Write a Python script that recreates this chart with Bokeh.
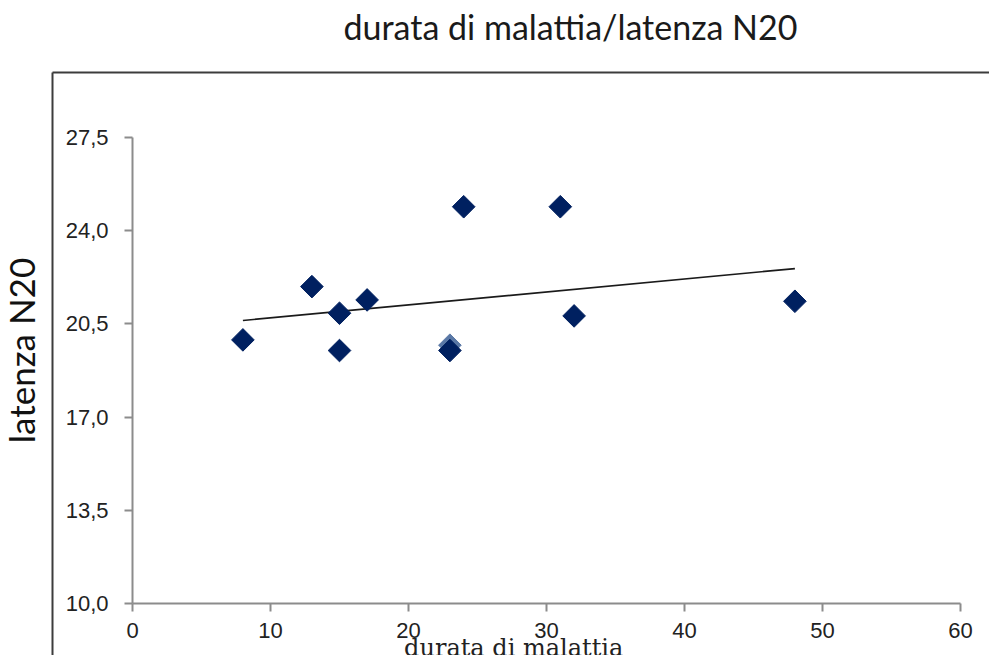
import numpy as np
from bokeh.plotting import figure
from bokeh.models import Range1d, FixedTicker, LinearAxis
from bokeh.embed import file_html
from bokeh.resources import INLINE

# ---- data ----
durata = [8, 13, 15, 17, 15, 23, 24, 31, 32, 48]
latenza = [19.9, 21.9, 20.9, 21.4, 19.5, 19.5, 24.9, 24.9, 20.8, 21.35]
durata_b = [23]
latenza_b = [19.7]

x_ticks = [0, 10, 20, 30, 40, 50, 60]
y_ticks = [10.0, 13.5, 17.0, 20.5, 24.0, 27.5]
y_tick_labels = ["10,0", "13,5", "17,0", "20,5", "24,0", "27,5"]

title_text = "durata di malattia/latenza N20"
x_label_text = "durata di  malattia"
y_label_text = "latenza N20"

# ---- layout (pixels) ----
W, H = 989, 655
FRAME_L, FRAME_T = 52, 72                      # outer chart box (left / top edges)
AX_L, AX_R, AX_T, AX_B = 132, 960, 137, 603    # inner plot area
X0, X1 = x_ticks[0], x_ticks[-1]
Y0, Y1 = y_ticks[0], y_ticks[-1]
kx = (AX_R - AX_L) / (X1 - X0)
ky = (AX_B - AX_T) / (Y1 - Y0)

def dx(cx):   # canvas px -> x data
    return X0 + (cx - AX_L) / kx

def dy(cy):   # canvas px -> y data
    return Y0 + (AX_B - cy) / ky

xr = Range1d(dx(0), dx(W))
yr = Range1d(dy(H), dy(0))

p = figure(width=W, height=H, output_backend="svg", toolbar_location=None,
           x_range=xr, y_range=yr,
           min_border_left=0, min_border_right=0, min_border_top=0, min_border_bottom=0)
p.outline_line_color = None
p.xgrid.visible = False
p.ygrid.visible = False
p.background_fill_color = "white"
p.border_fill_color = "white"

axis_col = "#8c8c8c"
xa = p.xaxis[0]
ya = p.yaxis[0]
for ax in (xa, ya):
    ax.axis_line_color = axis_col
    ax.axis_line_width = 2
    ax.major_tick_line_color = axis_col
    ax.major_tick_line_width = 2
    ax.major_tick_out = 8
    ax.major_tick_in = 0
    ax.minor_tick_line_color = None
    ax.major_label_text_font = "Liberation Sans"
    ax.major_label_text_font_size = "22px"
    ax.major_label_text_color = "#222222"

xa.fixed_location = Y0
xa.bounds = (X0, X1)
xa.ticker = FixedTicker(ticks=x_ticks)
xa.major_label_standoff = 11

ya.fixed_location = X0
ya.bounds = (Y0, Y1)
ya.ticker = FixedTicker(ticks=y_ticks)
ya.major_label_overrides = {t: s for t, s in zip(y_ticks, y_tick_labels)}
ya.major_label_standoff = 16

def deco_axis(**kw):
    return LinearAxis(ticker=FixedTicker(ticks=[]), major_tick_out=0, major_tick_in=0,
                      minor_tick_out=0, minor_tick_in=0, **kw)

# outer chart box lines (left + top)
frame_col = "#3c3c3c"
p.add_layout(deco_axis(axis_line_color=frame_col, axis_line_width=2,
                       fixed_location=dx(FRAME_L), bounds=(yr.start, dy(FRAME_T))), "left")
p.add_layout(deco_axis(axis_line_color=frame_col, axis_line_width=2,
                       fixed_location=dy(FRAME_T), bounds=(dx(FRAME_L), xr.end)), "above")

# chart title, above the chart box
tc = dx(570)
p.add_layout(deco_axis(axis_line_color=None, fixed_location=dy(FRAME_T),
                       bounds=(tc - 1, tc + 1),
                       axis_label=title_text, axis_label_standoff=26,
                       axis_label_text_font="Lato", axis_label_text_font_size="34px",
                       axis_label_text_font_style="normal",
                       axis_label_text_color="#1a1a1a"), "above")

# y axis title, left of the chart box
yc = dy(350)
p.add_layout(deco_axis(axis_line_color=None, fixed_location=dx(FRAME_L),
                       bounds=(yc - 1, yc + 1),
                       axis_label=y_label_text, axis_label_standoff=11,
                       axis_label_text_font="Lato", axis_label_text_font_size="35px",
                       axis_label_text_font_style="normal",
                       axis_label_text_color="#111111"), "left")

# x axis title, below the tick labels
xc = dx(517)
p.add_layout(deco_axis(axis_line_color=None, fixed_location=Y0, bounds=(xc - 5, xc + 5),
                       axis_label=x_label_text, axis_label_standoff=30,
                       axis_label_text_font="DejaVu Serif", axis_label_text_font_size="24px",
                       axis_label_text_font_style="normal",
                       axis_label_text_color="#222222"), "below")

# trend line (least squares over all points)
all_x = np.array(durata + durata_b, dtype=float)
all_y = np.array(latenza + latenza_b, dtype=float)
k, b = np.polyfit(all_x, all_y, 1)
xs = np.array([all_x.min(), all_x.max()])
p.line(xs, k * xs + b, line_color="#1a1a1a", line_width=1.7)

# markers
p.scatter(durata_b, latenza_b, marker="square", size=16, angle=np.pi / 4,
          fill_color="#5a78a6", line_color="#5a78a6")
p.scatter(durata, latenza, marker="square", size=16, angle=np.pi / 4,
          fill_color="#002060", line_color="#002060")

open("out.html", "w").write(file_html(p, INLINE))
